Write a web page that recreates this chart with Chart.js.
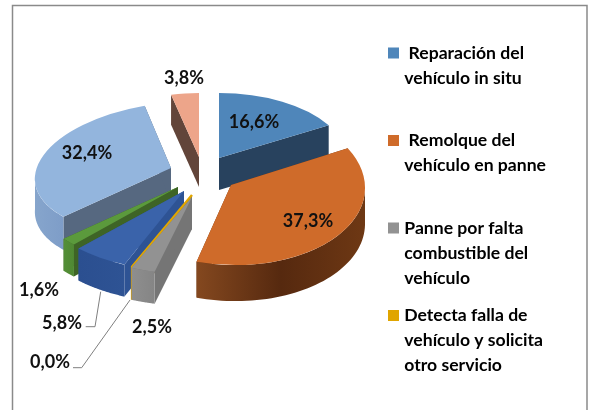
<!DOCTYPE html>
<html>
<head>
<meta charset="utf-8">
<style>
html,body{margin:0;padding:0;background:#fff;}
canvas{display:block;filter:blur(0.45px);}
</style>
<script src="https://cdn.jsdelivr.net/npm/chart.js@4"></script>
</head>
<body>
<canvas id="c" width="592" height="410"></canvas>
<script>
// ---- data ----
const categories = [
  [" Reparación del", "vehículo in situ", ""],
  [" Remolque del", "vehículo en panne", ""],
  ["Panne por falta", "combustible del", "vehículo"],
  ["Detecta falla de", "vehículo y solicita", "otro servicio"]
];
const sliceValues = [16.6, 37.3, 2.5, 0.0, 5.8, 1.6, 32.4, 3.8];
const valueLabels = ["16,6%", "37,3%", "2,5%", "0,0%", "5,8%", "1,6%", "32,4%", "3,8%"];

// ---- colours ----
const topColors  = ["#4F86BA", "#CF6B2A", "#929292", "#E0A500", "#3A63AA", "#5B9A3C", "#93B5DD", "#EDA58A"];
const wallColors = ["#28425E", "#6B3614", "#757575", "#B88A00", "#2E5394", "#3E6426", "#566880", "#62453A"];
const rimStops = [
  ["#2A4A6B", "#2A4A6B"],
  ["#84481F", "#56290F", "#6E3814"],
  ["#8E8E8E", "#858585"],
  ["#B88A00", "#B88A00"],
  ["#2B4F90", "#2E5394"],
  ["#548F37", "#4F8833"],
  ["#86A5CC", "#7E9DC8"],
  ["#8A5F4D", "#8A5F4D"]
];

// ---- drawing layout (perspective: each wedge has its own ellipse and pull-out) ----
const apexX   = [219, 231, 192, 192, 184, 178, 171, 199];
const apexY   = [158, 185, 197, 195, 191, 187, 168, 157];
const radiusX = [127, 134, 154, 153, 152, 150, 136, 118];
const radiusY = [ 65,  80,  77,  78,  80,  80,  66,  64];
const shearX  = [  0,  -2,   0,   0,   0,   0,  -6,   0];
const shearY  = [  0,   4,   0,   0,   0,   0,  -8,   0];
const depths  = [ 32,  36,  32,  33,  32,  32,  33,  30];
const paintOrder = [7, 0, 6, 1, 5, 4, 3, 2];
const labelX = [254, 308, 152, 50, 62, 39, 87, 184];
const labelY = [122, 221, 327, 362, 323, 290, 153, 78];
const leaderXs = [[100.7, 95, 85.7], [130, 81.7, 73]];
const leaderYs = [[291.7, 326.7, 326.7], [300, 367.7, 367.7]];
const frameXs = [12.5, 12.5, 587, 587];
const frameYs = [410, 5.5, 5.5, 410];

const labelFont = "bold 18px Lato";

const pie3d = {
  id: "pie3d",
  beforeDatasetDraw() { return false; },
  afterLayout(chart) {
    chart.legend.left = 379;
    chart.legend.top = 31.7;
  },
  beforeDraw(chart) {
    const ctx = chart.ctx;
    ctx.save();
    ctx.strokeStyle = "#8A8A8A";
    ctx.lineWidth = 1.5;
    ctx.beginPath();
    frameXs.forEach((x, i) => i ? ctx.lineTo(x, frameYs[i]) : ctx.moveTo(x, frameYs[i]));
    ctx.stroke();
    ctx.restore();
  },
  afterDatasetsDraw(chart) {
    const ctx = chart.ctx;
    const arcs = chart.getDatasetMeta(0).data;
    paintOrder.forEach(i => {
      const arc = arcs[i];
      const { startAngle, endAngle, outerRadius } = arc.getProps(["startAngle", "endAngle", "outerRadius"], true);
      const cx = apexX[i], cy = apexY[i], rx = radiusX[i], ry = radiusY[i], d = depths[i];
      const sx = shearX[i], sy = shearY[i];
      const px = a => cx + rx * Math.cos(a) + sx * Math.sin(a);
      const py = a => cy + ry * Math.sin(a) + sy * Math.cos(a);
      const thin = endAngle - startAngle < 0.001;

      // cut faces
      ctx.save();
      ctx.fillStyle = wallColors[i];
      [startAngle, endAngle].forEach(a => {
        ctx.beginPath();
        ctx.moveTo(cx, cy);
        ctx.lineTo(px(a), py(a));
        ctx.lineTo(px(a), py(a) + d);
        ctx.lineTo(cx, cy + d);
        ctx.closePath();
        ctx.fill();
      });
      ctx.restore();

      // outer rim (only the part facing the viewer)
      const lo = Math.max(startAngle, 0), hi = Math.min(endAngle, Math.PI);
      if (hi > lo) {
        const xa = [];
        for (let k = 0; k <= 48; k++) xa.push(lo + (hi - lo) * k / 48);
        const xs = xa.map(px);
        const g = ctx.createLinearGradient(Math.min(...xs), 0, Math.max(...xs), 0);
        rimStops[i].forEach((c, k) => g.addColorStop(k / (rimStops[i].length - 1), c));
        ctx.save();
        ctx.fillStyle = g;
        ctx.beginPath();
        xa.forEach((a, k) => k ? ctx.lineTo(px(a), py(a)) : ctx.moveTo(px(a), py(a)));
        xa.slice().reverse().forEach(a => ctx.lineTo(px(a), py(a) + d));
        ctx.closePath();
        ctx.fill();
        ctx.restore();
      }

      // top surface: the library's own arc element under an elliptical transform
      if (thin) {
        ctx.save();
        ctx.strokeStyle = topColors[i];
        ctx.lineWidth = 2.5;
        ctx.beginPath();
        ctx.moveTo(cx, cy);
        ctx.lineTo(px(startAngle), py(startAngle));
        ctx.lineTo(px(startAngle), py(startAngle) + d);
        ctx.stroke();
        ctx.restore();
      } else {
        ctx.save();
        ctx.transform(rx / outerRadius, sy / outerRadius, sx / outerRadius, ry / outerRadius, cx, cy);
        ctx.translate(-arc.x, -arc.y);
        arc.draw(ctx);
        ctx.restore();
      }
    });

    // leader lines
    ctx.save();
    ctx.strokeStyle = "#7F7F7F";
    ctx.lineWidth = 1;
    leaderXs.forEach((xs, j) => {
      ctx.beginPath();
      xs.forEach((x, k) => k ? ctx.lineTo(x, leaderYs[j][k]) : ctx.moveTo(x, leaderYs[j][k]));
      ctx.stroke();
    });
    ctx.restore();

    // value labels
    ctx.save();
    ctx.font = labelFont;
    ctx.fillStyle = "#111";
    ctx.textAlign = "center";
    ctx.textBaseline = "middle";
    valueLabels.forEach((t, i) => ctx.fillText(t, labelX[i], labelY[i]));
    ctx.restore();
  }
};

new Chart(document.getElementById("c"), {
  type: "pie",
  data: {
    labels: categories,
    datasets: [{
      data: sliceValues,
      backgroundColor: topColors,
      borderWidth: 0
    }]
  },
  options: {
    responsive: false,
    animation: false,
    events: [],
    plugins: {
      tooltip: { enabled: false },
      legend: {
        position: "right",
        align: "start",
        labels: {
          boxWidth: 4,
          boxHeight: 4,
          padding: 12.5,
          color: "#1a1a1a",
          font: { family: "Lato", size: 17.6, weight: "bold", lineHeight: "25px" },
          generateLabels(chart) {
            return categories.map((text, i) => ({
              text,
              fillStyle: topColors[i],
              strokeStyle: topColors[i],
              lineWidth: 7,
              hidden: false,
              index: i
            }));
          }
        }
      }
    }
  },
  plugins: [pie3d]
});
</script>
</body>
</html>
